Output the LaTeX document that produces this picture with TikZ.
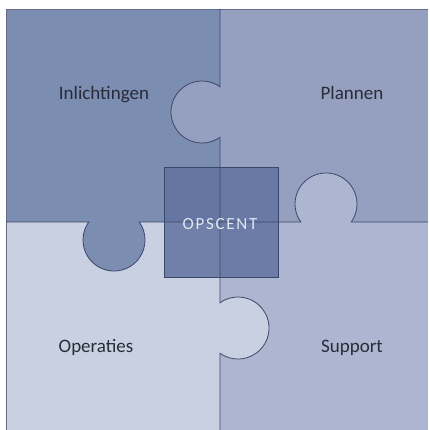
\documentclass[tikz,border=0pt]{standalone}
\usepackage{fontspec}
\setmainfont{Carlito}
\begin{document}
\begin{tikzpicture}[x=1pt,y=-1pt,
  piece/.style={draw=none},
  seam/.style={draw=seamcol,line width=0.8pt},
  label/.style={text=labelcol,font=\fontsize{19}{22}\selectfont,anchor=base},
  hubtext/.style={text=hubtextcol,font=\fontsize{17}{20}\selectfont\addfontfeature{LetterSpace=10},anchor=base}]
\definecolor{colInl}{RGB}{124,141,178}
\definecolor{colPla}{RGB}{149,159,192}
\definecolor{colOpe}{RGB}{201,208,225}
\definecolor{colSup}{RGB}{173,182,208}
\definecolor{colHub}{RGB}{98,114,160}
\definecolor{seamcol}{RGB}{60,70,105}
\definecolor{labelcol}{RGB}{40,44,56}
\definecolor{hubtextcol}{RGB}{225,230,242}
\definecolor{edgecol}{RGB}{100,108,135}
% canvas
\useasboundingbox (0,0) rectangle (430,430);
\fill[white] (0,0) rectangle (430,430);
% the four puzzle quadrants
\fill[colInl] (6,9) rectangle (220,222);
\fill[colPla] (220,9) rectangle (428,222);
\fill[colOpe] (6,222) rectangle (220,430);
\fill[colSup] (220,222) rectangle (428,430);
% knobs, each in the colour of the piece it belongs to
\fill[colPla] (202,112) circle[radius=31];
\fill[colSup] (326,204) circle[radius=31];
\fill[colInl] (114,240) circle[radius=31];
\fill[colOpe] (238,328) circle[radius=31];
% outer edge
\draw[edgecol,line width=0.8pt] (6,430) -- (6,9) -- (428,9);
% central hub
\node[fill=colHub,fill opacity=0.85,draw=seamcol,line width=0.6pt,minimum width=114pt,minimum height=110pt,inner sep=0pt] (hub) at (221,222) {};
% seams between the pieces
\coordinate (vtop) at (220,9);
\coordinate (vbot) at (220,430);
\coordinate (hleft) at (6,222);
\coordinate (hright) at (428,222);
\draw[seam] (vtop) -- (220,86.8) arc[start angle=-54.5,end angle=-305.5,radius=31]
  -- (220,302.8) arc[start angle=-125.5,end angle=125.5,radius=31] -- (vbot);
\draw[seam] (hleft) -- (88.8,222) arc[start angle=215.5,end angle=-35.5,radius=31]
  -- (300.8,222) arc[start angle=144.5,end angle=395.5,radius=31] -- (hright);
% labels
\node[label] (inl) at (104,100) {Inlichtingen};
\node[label] (pla) at (352,100) {Plannen};
\node[label] (ope) at (96,352) {Operaties};
\node[label] (sup) at (352,352) {Support};
\node[hubtext] (hubl) at (220,229) {OPSCENT};
\end{tikzpicture}
\end{document}
